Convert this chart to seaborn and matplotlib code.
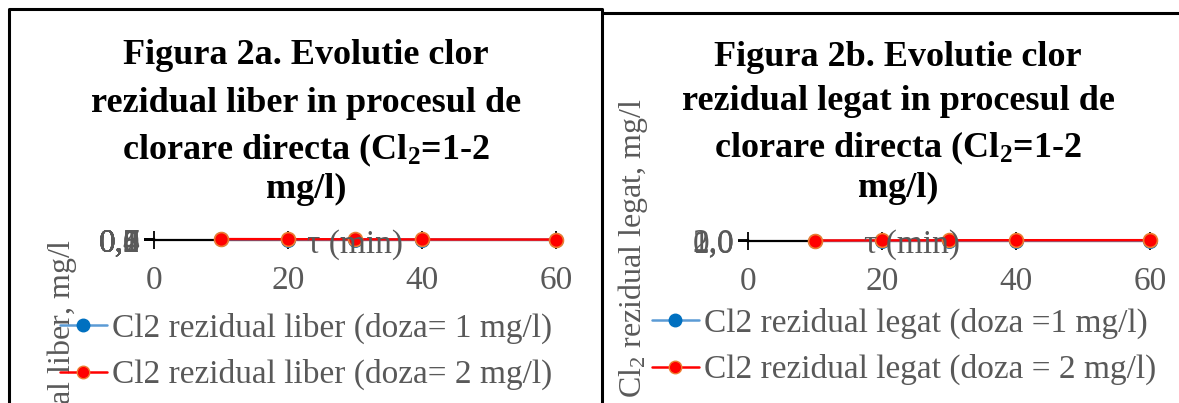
import numpy as np
import pandas as pd
import seaborn as sns
import matplotlib.pyplot as plt
from matplotlib.lines import Line2D
from matplotlib.ticker import FuncFormatter

# time points (min)
timp = [10, 20, 30, 40, 60]

# Fig 2a - clor rezidual liber (mg/l)
liber_doza1 = [0.5, 0.4, 0.3, 0.3, 0.2]
liber_doza2 = [0.8, 0.7, 0.6, 0.5, 0.4]

# Fig 2b - clor rezidual legat (mg/l)
legat_doza1 = [0.4, 0.5, 0.6, 0.6, 0.7]
legat_doza2 = [1.0, 1.2, 1.4, 1.5, 1.6]

x_ticks = [0, 20, 40, 60]
liber_yticks = [0.0, 0.1, 0.2, 0.3, 0.4, 0.5, 0.6, 0.7, 0.8]
legat_yticks = [0.0, 1.0, 2.0]

titles = [
    "Figura 2a. Evolutie clor\nrezidual liber in procesul de\n"
    r"clorare directa (Cl$_\mathbf{2}$=1-2" "\nmg/l)",
    "Figura 2b. Evolutie clor\nrezidual legat in procesul de\n"
    r"clorare directa (Cl$_\mathbf{2}$=1-2" "\nmg/l)",
]
ylabels = [r"Cl$_2$ rezidual liber, mg/l", r"Cl$_2$ rezidual legat, mg/l"]
legend_labels = [
    ["Cl2 rezidual liber (doza= 1 mg/l)", "Cl2 rezidual liber (doza= 2 mg/l)"],
    ["Cl2 rezidual legat (doza =1 mg/l)", "Cl2 rezidual legat (doza = 2 mg/l)"],
]

sns.set_style("white")
plt.rcParams['font.family'] = ['Liberation Serif', 'DejaVu Serif']
plt.rcParams['mathtext.fontset'] = 'custom'
plt.rcParams['mathtext.rm'] = 'Liberation Serif'
plt.rcParams['mathtext.it'] = 'Liberation Serif:italic'
plt.rcParams['mathtext.bf'] = 'Liberation Serif:bold'

W, H = 1179, 403
fig = plt.figure(figsize=(W / 100, H / 100), dpi=100)


def fx(px):
    return px / W


def fy(py):
    return 1 - py / H


GRAY = "#595959"
BLUE_LINE, BLUE_MK = "#5B9BD5", "#0070C0"
RED, ORANGE = "#FF0000", "#ED7D31"
FS = 24

# panel frames
for xs, ys in [([9, 9, 601.5, 601.5], [403, 9, 9, 403]), ([603, 1179], [13, 13])]:
    fig.add_artist(Line2D([fx(x) for x in xs], [fy(y) for y in ys], color="black", lw=2.2))

panels = [
    dict(x0=154, x1=556, y=240, d1=liber_doza1, d2=liber_doza2, yt=liber_yticks, ylim=(0, 0.9),
         tx=306, ty=[56, 103, 150, 189], ylx=62, yly=387, xlx=355, leg=(60, 313)),
    dict(x0=748, x1=1150, y=241, d1=legat_doza1, d2=legat_doza2, yt=legat_yticks, ylim=(0, 2),
         tx=898, ty=[58, 102, 148, 188], ylx=633, yly=248, xlx=912, leg=(652, 308)),
]

for i, p in enumerate(panels):
    ax = fig.add_axes([fx(p["x0"]), fy(p["y"]), (p["x1"] - p["x0"]) / W, 1 / H])
    df = pd.DataFrame({"t": timp + timp, "cl": p["d1"] + p["d2"],
                       "serie": [legend_labels[i][0]] * 5 + [legend_labels[i][1]] * 5})
    sns.lineplot(data=df[df.serie == legend_labels[i][0]], x="t", y="cl", ax=ax, color=BLUE_LINE,
                 lw=1.8, marker="o", markersize=10, markerfacecolor=BLUE_MK, markeredgecolor=BLUE_MK,
                 clip_on=False, zorder=3)
    sns.lineplot(data=df[df.serie == legend_labels[i][1]], x="t", y="cl", ax=ax, color=RED,
                 lw=1.8, marker="o", markersize=10, markerfacecolor=RED, markeredgecolor=ORANGE,
                 markeredgewidth=1.2, clip_on=False, zorder=4)
    ax.set_xlim(0, 60)
    ax.set_ylim(*p["ylim"])
    ax.set_xticks(x_ticks)
    ax.set_yticks(p["yt"])
    ax.yaxis.set_major_formatter(FuncFormatter(lambda v, _: f"{v:.1f}".replace(".", ",")))
    ax.tick_params(axis="x", bottom=True, direction="inout", length=13, width=1.3, color="black",
                   labelsize=FS, labelcolor=GRAY, pad=12)
    ax.tick_params(axis="y", left=True, direction="out", length=7, width=1.3, color="black",
                   labelsize=FS, labelcolor=GRAY, pad=3)
    for s in ["top", "right"]:
        ax.spines[s].set_visible(False)
    for s in ["left", "bottom"]:
        ax.spines[s].set_color("black")
        ax.spines[s].set_linewidth(1.6)
    ax.set_xlabel("")
    ax.set_ylabel("")
    ax.patch.set_alpha(0)

    # x axis title overlapping the axis
    fig.text(fx(p["xlx"]), fy(245), "τ (min)", ha="center", va="center", fontsize=FS, color=GRAY)
    # y axis title
    fig.text(fx(p["ylx"]), fy(p["yly"]), ylabels[i], rotation=90, ha="center", va="center",
             fontsize=23, color=GRAY)
    # chart title
    for line, yy in zip(titles[i].split("\n"), p["ty"]):
        fig.text(fx(p["tx"]), fy(yy), line, ha="center", va="center", fontsize=26,
                 fontweight="bold", color="black")

    handles = [
        Line2D([], [], color=BLUE_LINE, lw=1.8, marker="o", markersize=9,
               markerfacecolor=BLUE_MK, markeredgecolor=BLUE_MK),
        Line2D([], [], color=RED, lw=1.8, marker="o", markersize=9,
               markerfacecolor=RED, markeredgecolor=ORANGE),
    ]
    ax.get_legend() and ax.get_legend().remove()
    fig.legend(handles, legend_labels[i], loc="upper left",
               bbox_to_anchor=(fx(p["leg"][0]), fy(p["leg"][1])), frameon=False,
               fontsize=FS, labelcolor=GRAY, handlelength=1.41, handletextpad=0.15,
               labelspacing=0.45, borderpad=0, borderaxespad=0)

fig.savefig("out.png", dpi=100)
